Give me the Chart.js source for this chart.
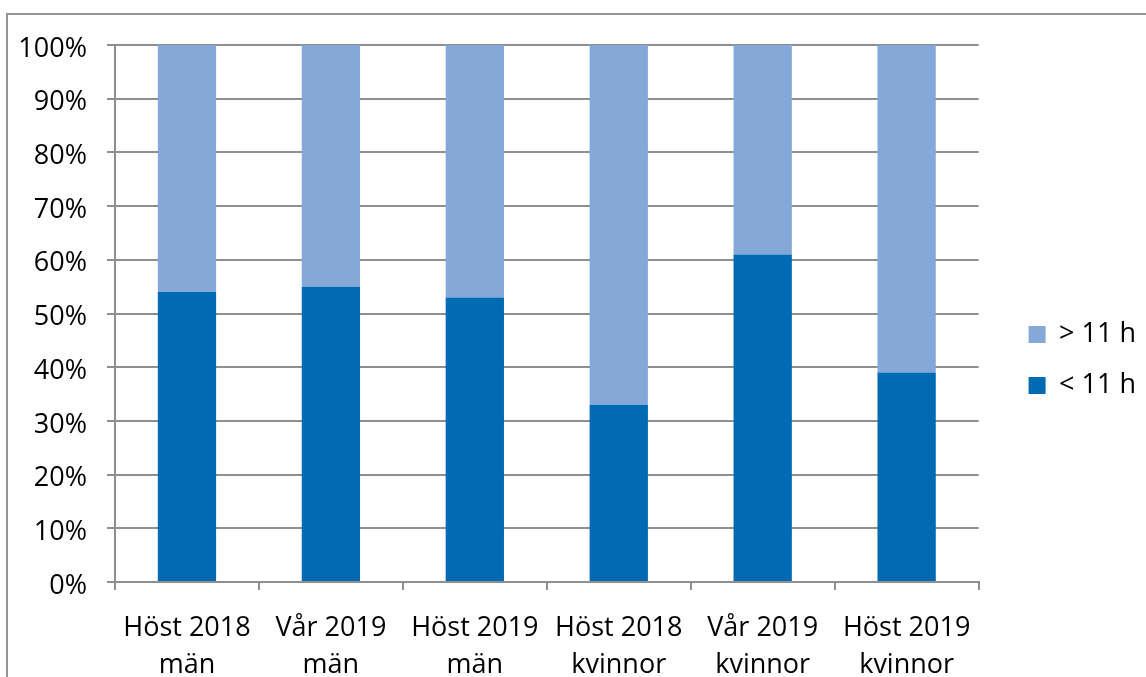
<!DOCTYPE html>
<html>
<head>
<meta charset="utf-8">
<script src="https://cdn.jsdelivr.net/npm/chart.js@4"></script>
<style>
  html, body { margin: 0; padding: 0; background: #fff; overflow: hidden; }
  #frame { position: absolute; left: 6px; top: 13px; width: 2000px; height: 2000px; border: 2px solid #959595; }
  #wrap { position: absolute; left: 0; top: 0; width: 1146px; height: 700px; }
</style>
</head>
<body>
<div id="frame"></div>
<div id="wrap"><canvas id="sleepChart"></canvas></div>
<script>
const categories = [
    ['Höst 2018', 'män'],
    ['Vår 2019', 'män'],
    ['Höst 2019', 'män'],
    ['Höst 2018', 'kvinnor'],
    ['Vår 2019', 'kvinnor'],
    ['Höst 2019', 'kvinnor']
];
const under11 = [54, 55, 53, 33, 61, 39];
const over11 = [46, 45, 47, 67, 39, 61];
const yTicks = [0, 10, 20, 30, 40, 50, 60, 70, 80, 90, 100];

Chart.defaults.font.family = "'Open Sans', sans-serif";
Chart.defaults.font.size = 27;
Chart.defaults.color = '#000';

const gridGray = '#8f8f8f';

const ctx = document.getElementById('sleepChart').getContext('2d');
const sleepChart = new Chart(ctx, {
    type: 'bar',
    data: {
        labels: categories,
        datasets: [
            {
                label: '< 11 h',
                data: under11,
                backgroundColor: '#006ab2',
                barPercentage: 0.405,
                categoryPercentage: 1
            },
            {
                label: '> 11 h',
                data: over11,
                backgroundColor: '#86a8d8',
                barPercentage: 0.405,
                categoryPercentage: 1
            }
        ]
    },
    options: {
        responsive: true,
        maintainAspectRatio: false,
        animation: false,
        layout: { padding: { top: 45, right: 0, bottom: 25, left: 0 } },
        plugins: {
            tooltip: { enabled: false },
            legend: {
                position: 'right',
                reverse: true,
                labels: {
                    boxWidth: 17,
                    boxHeight: 17,
                    padding: 24,
                    color: '#000'
                }
            }
        },
        scales: {
            x: {
                stacked: true,
                // fixed height so the plot bottom sits where the original does
                afterFit: scale => { scale.height = 93; },
                grid: {
                    offset: true,
                    drawOnChartArea: false,
                    tickLength: 8,
                    color: gridGray,
                    lineWidth: 2
                },
                border: { color: gridGray, width: 2 },
                ticks: {
                    padding: 20,
                    maxRotation: 0,
                    autoSkip: false,
                    font: { lineHeight: 1.37 }
                }
            },
            y: {
                stacked: true,
                min: 0,
                max: 100,
                afterBuildTicks: scale => { scale.ticks = yTicks.map(v => ({ value: v })); },
                afterFit: scale => { scale.width = 115; },
                grid: { tickLength: 8, color: gridGray, lineWidth: 2 },
                border: { color: gridGray, width: 2 },
                ticks: {
                    padding: 20,
                    labelOffset: 4,
                    callback: v => v + '%'
                }
            },
            // empty axis, only there to leave room between plot and legend
            gap: {
                position: 'right',
                min: 0,
                max: 100,
                afterFit: scale => { scale.width = 26; },
                grid: { display: false },
                border: { display: false },
                ticks: { display: false }
            }
        }
    }
});
</script>
</body>
</html>
